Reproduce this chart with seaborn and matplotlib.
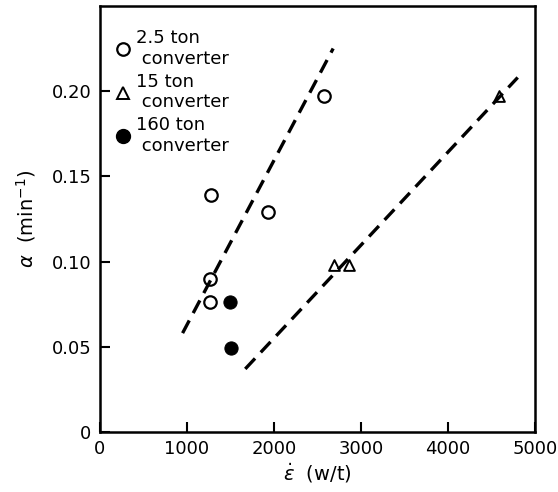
import matplotlib
matplotlib.use("Agg")
import matplotlib.pyplot as plt
import seaborn as sns
import pandas as pd
from matplotlib.lines import Line2D

# data
c25_x = [1280, 1930, 2580, 1260, 1260]
c25_y = [0.139, 0.129, 0.197, 0.090, 0.076]
c15_x = [2690, 2860, 4580]
c15_y = [0.098, 0.098, 0.197]
c160_x = [1490, 1510]
c160_y = [0.076, 0.049]
fit1_x = [950, 2680]
fit1_y = [0.058, 0.225]
fit2_x = [1670, 4800]
fit2_y = [0.037, 0.208]
labels = ["2.5 ton\n converter", "15 ton\n converter", "160 ton\n converter"]
xticks = [0, 1000, 2000, 3000, 4000, 5000]
yticks = [0, 0.05, 0.10, 0.15, 0.20]
ytick_labels = ["0", "0.05", "0.10", "0.15", "0.20"]

sns.set_style("white")
plt.rcParams['font.family'] = ['DejaVu Sans']
plt.rcParams['font.size'] = 13
plt.rcParams['text.color'] = 'black'
plt.rcParams['axes.labelcolor'] = 'black'
plt.rcParams['xtick.color'] = 'black'
plt.rcParams['ytick.color'] = 'black'

fig = plt.figure(figsize=(5.58, 4.92), dpi=100)
ax = fig.add_axes([0.179, 0.122, 0.78, 0.866])

df = pd.DataFrame({
    "x": c25_x + c15_x + c160_x,
    "y": c25_y + c15_y + c160_y,
    "g": [labels[0]] * len(c25_x) + [labels[1]] * len(c15_x) + [labels[2]] * len(c160_x),
})

lines = pd.DataFrame({"x": fit1_x + fit2_x, "y": fit1_y + fit2_y,
                      "f": ["a"] * 2 + ["b"] * 2})
sns.lineplot(data=lines, x="x", y="y", units="f", estimator=None, ax=ax,
             color="black", lw=2.4, linestyle=(0, (4.3, 2.5)), legend=False)

sub = df[df.g == labels[0]]
sns.scatterplot(data=sub, x="x", y="y", ax=ax, marker="o", s=80,
                facecolor="white", edgecolor="black", linewidth=1.6, legend=False)
sub = df[df.g == labels[1]]
sns.scatterplot(data=sub, x="x", y="y", ax=ax, marker="^", s=60,
                facecolor="white", edgecolor="black", linewidth=1.4, legend=False)
sub = df[df.g == labels[2]]
sns.scatterplot(data=sub, x="x", y="y", ax=ax, marker="o", s=90,
                color="black", edgecolor="black", legend=False)

ax.set_xlim(0, 5000)
ax.set_ylim(0, 0.25)
ax.set_xticks(xticks)
ax.set_yticks(yticks)
ax.set_yticklabels(ytick_labels)
ax.tick_params(direction="in", length=7, width=1.5, labelsize=13, pad=6,
               bottom=True, left=True, top=False, right=False,
               colors="black")
for s in ax.spines.values():
    s.set_linewidth(1.8)
    s.set_color("black")

ax.set_xlabel(r"$\dot{\varepsilon}$  (w/t)", fontsize=14, labelpad=2, color="black")
ax.set_ylabel(r"$\alpha$  (min$^{-1}$)", fontsize=14, labelpad=10, color="black")

handles = [
    Line2D([], [], marker="o", ls="", mfc="white", mec="black", mew=1.6, ms=9),
    Line2D([], [], marker="^", ls="", mfc="white", mec="black", mew=1.4, ms=8),
    Line2D([], [], marker="o", ls="", mfc="black", mec="black", ms=10),
]
leg = ax.legend(handles, labels, loc="upper left", bbox_to_anchor=(0.0, 0.975),
                frameon=False, handletextpad=0.1, labelspacing=0.25, handlelength=1.2,
                borderaxespad=0.3, fontsize=13)
for t in leg.get_texts():
    t.set_color("black")

fig.savefig("out.png", dpi=100)
